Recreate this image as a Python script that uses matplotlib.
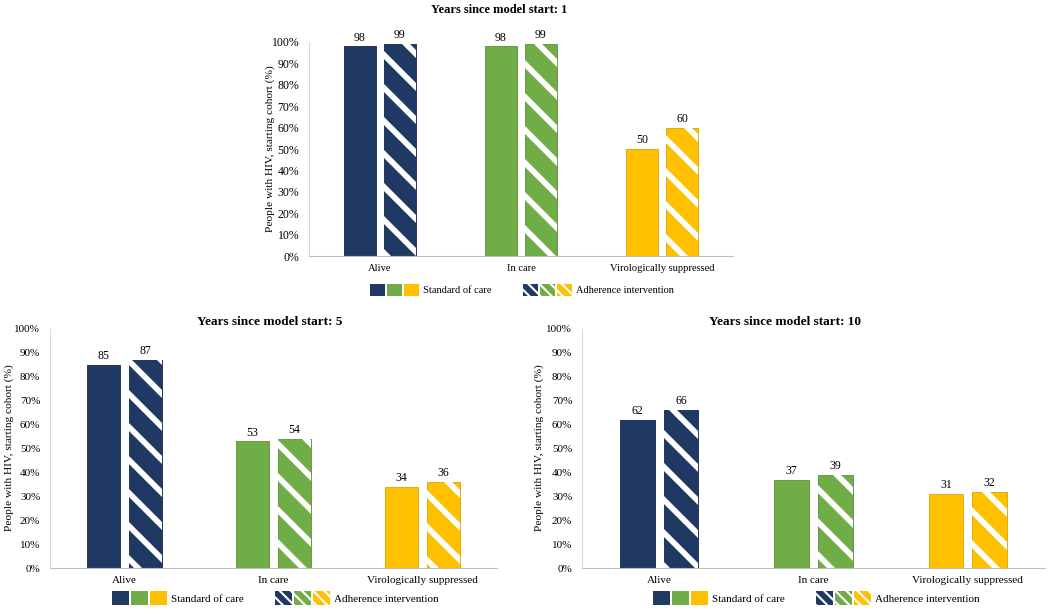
import matplotlib
matplotlib.use("Agg")
import matplotlib.pyplot as plt
from matplotlib.patches import Patch
from matplotlib.collections import LineCollection
from matplotlib.transforms import IdentityTransform
from matplotlib.legend_handler import HandlerTuple
from matplotlib.ticker import PercentFormatter
import numpy as np

plt.rcParams['font.family'] = ['Liberation Serif', 'DejaVu Serif']

categories = ["Alive", "In care", "Virologically suppressed"]
years = [1, 5, 10]
standard_care = {1: [98, 98, 50], 5: [85, 53, 34], 10: [62, 37, 31]}
adherence = {1: [99, 99, 60], 5: [87, 54, 36], 10: [66, 39, 32]}
yticks = list(range(0, 101, 10))

colors = ["#203864", "#70AD47", "#FFC000"]
edges = ["#14254a", "#5a9238", "#d9a300"]

W, H = 1050, 611
fig = plt.figure(figsize=(W / 100, H / 100), dpi=100)

def px_axes(left, right, top, bottom):
    return fig.add_axes([left / W, 1 - bottom / H, (right - left) / W, (bottom - top) / H])

# panel layout in pixels: axes box, title, y label, legend anchor, font sizes
panels = [
    dict(year=1, box=(309, 733, 42, 256), title=(499, 10), ylab=(270, 149), leg=(370, 290),
         fs_title=9, fs_tick=8.5, fs_cat=7.6, fs_leg=7.5, sq=15),
    dict(year=5, box=(50, 497, 329, 568), title=(270, 322), ylab=(9, 448), leg=(112, 598),
         fs_title=9.5, fs_tick=8, fs_cat=8, fs_leg=8, sq=17),
    dict(year=10, box=(582, 1045, 329, 568), title=(785, 322), ylab=(539, 448), leg=(653, 598),
         fs_title=9.5, fs_tick=8, fs_cat=8, fs_leg=8, sq=17),
]

x = np.arange(len(categories))
width = 0.225
off = 0.1415

# white diagonal stripes in pixel space, 33px apart
period = 33
cs = np.arange(-H, W + H, period)
stripe_segs = [[(c, 0), (c - H, H)] for c in cs]

for p in panels:
    ax = px_axes(*p["box"])
    soc = standard_care[p["year"]]
    adh = adherence[p["year"]]

    b1 = ax.bar(x - off, soc, width, color=colors, edgecolor=edges, linewidth=0.6)
    b2 = ax.bar(x + off, adh, width, color=colors, edgecolor=edges, linewidth=0.6)
    for bar in b2:
        lc = LineCollection(stripe_segs, colors="white", linewidths=4.1,
                            transform=IdentityTransform(), zorder=bar.get_zorder() + 0.1)
        ax.add_collection(lc, autolim=False)
        lc.set_clip_path(bar)

    ax.bar_label(b1, labels=[str(v) for v in soc], padding=2, fontsize=8.5)
    ax.bar_label(b2, labels=[str(v) for v in adh], padding=2, fontsize=8.5)

    ax.set_xlim(-0.5, 2.5)
    ax.set_ylim(0, 100)
    ax.set_yticks(yticks)
    ax.yaxis.set_major_formatter(PercentFormatter(decimals=0))
    ax.set_xticks(x)
    ax.set_xticklabels(categories, fontsize=p["fs_cat"])
    ax.tick_params(axis="y", length=0, labelsize=p["fs_tick"], pad=7)
    ax.tick_params(axis="x", length=0, pad=6)
    for s in ["top", "right"]:
        ax.spines[s].set_visible(False)
    ax.spines["left"].set_color("#d9d9d9")
    ax.spines["bottom"].set_color("#bfbfbf")

    tx, ty = p["title"]
    fig.text(tx / W, 1 - ty / H, f"Years since model start: {p['year']}",
             ha="center", va="center", fontsize=p["fs_title"], fontweight="bold")
    lx, ly = p["ylab"]
    fig.text(lx / W, 1 - ly / H, "People with HIV, starting cohort (%)",
             rotation=90, ha="center", va="center", fontsize=8.2)

    fs = p["fs_leg"]
    em = fs * 100 / 72
    solid = tuple(Patch(facecolor=c, edgecolor="white", linewidth=0) for c in colors)
    with plt.rc_context({'hatch.linewidth': 1.5}):
        striped = tuple(Patch(facecolor=c, edgecolor="white", linewidth=0, hatch="\\\\\\")
                        for c in colors)
        gx, gy = p["leg"]
        fig.legend([solid, striped], ["Standard of care", "Adherence intervention"],
                   handler_map={tuple: HandlerTuple(ndivide=None, pad=2 / em)},
                   loc="center left", bbox_to_anchor=(gx / W, 1 - gy / H),
                   bbox_transform=fig.transFigure, ncol=2, frameon=False,
                   fontsize=fs, handlelength=(3 * p["sq"] + 4) / em,
                   handleheight=p["sq"] / em, handletextpad=4 / em,
                   columnspacing=31 / em, borderpad=0, borderaxespad=0)

fig.savefig("out.png", dpi=100)
